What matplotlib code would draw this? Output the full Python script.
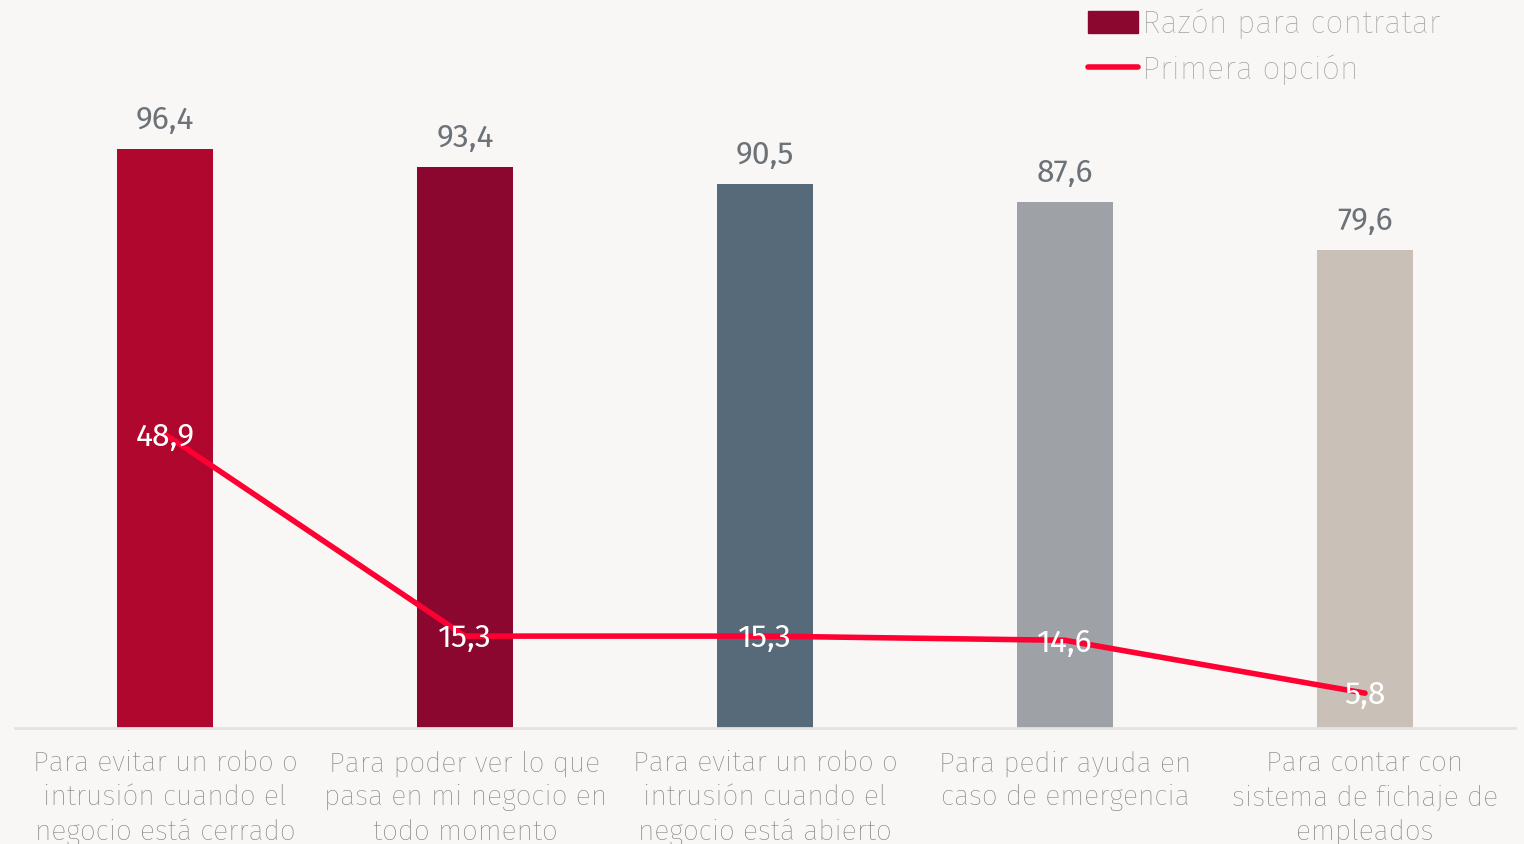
import matplotlib.pyplot as plt
from matplotlib.patches import Patch
from matplotlib.lines import Line2D

# datos
categorias = [
    'Para evitar un robo o\nintrusión cuando el\nnegocio está cerrado',
    'Para poder ver lo que\npasa en mi negocio en\ntodo momento',
    'Para evitar un robo o\nintrusión cuando el\nnegocio está abierto',
    'Para pedir ayuda en\ncaso de emergencia',
    'Para contar con\nsistema de fichaje de\nempleados',
]
razon = [96.4, 93.4, 90.5, 87.6, 79.6]
primera = [48.9, 15.3, 15.3, 14.6, 5.8]
colores = ['#b0072e', '#8b0730', '#576a79', '#9ea1a6', '#c9c1b7']

plt.rcParams['font.family'] = ['Fira Sans', 'Roboto', 'DejaVu Sans']
fondo = '#f8f7f6'

fig = plt.figure(figsize=(15.24, 8.44), dpi=100, facecolor=fondo)
ax = fig.add_axes([15 / 1524, 116 / 844, 1500 / 1524, 728 / 844])
ax.set_facecolor(fondo)

x = range(len(categorias))
ax.bar(x, razon, width=0.317, color=colores, zorder=2)
ax.plot(x, primera, color='#ff0033', lw=4, zorder=3, solid_capstyle='round')

for i, v in enumerate(razon):
    ax.text(i, v + 2.3, f'{v:.1f}'.replace('.', ','), ha='center', va='bottom',
            fontsize=23, color='#6d7278')
for i, v in enumerate(primera):
    ax.text(i, v - 0.4, f'{v:.1f}'.replace('.', ','), ha='center', va='center',
            fontsize=23, color='white', zorder=4)

ax.set_xlim(-0.5, 4.5)
ax.set_ylim(0, 728 / 6.006)
ax.set_yticks([])
ax.set_xticks(list(x))
ax.set_xticklabels(categorias, fontsize=20.3, color='#777777', fontweight='light',
                   linespacing=1.36)
ax.tick_params(axis='x', length=0, pad=16)
for s in ['top', 'right', 'left']:
    ax.spines[s].set_visible(False)
ax.spines['bottom'].set_color('#e3e3e3')
ax.spines['bottom'].set_linewidth(2)

# leyenda
handles = [Patch(color='#8b0730'),
           Line2D([0], [0], color='#ff0033', lw=4, solid_capstyle='round')]
leg = ax.legend(handles, ['Razón para contratar', 'Primera opción'],
                loc='upper left', bbox_to_anchor=(1044 / 1500, 1.028),
                frameon=False, handlelength=1.55, handletextpad=0.12,
                labelspacing=0.47, prop={'weight': 'light', 'size': 23.2})
for t in leg.get_texts():
    t.set_color('#a0a0a0')

plt.savefig('out.png', dpi=100, facecolor=fondo)
